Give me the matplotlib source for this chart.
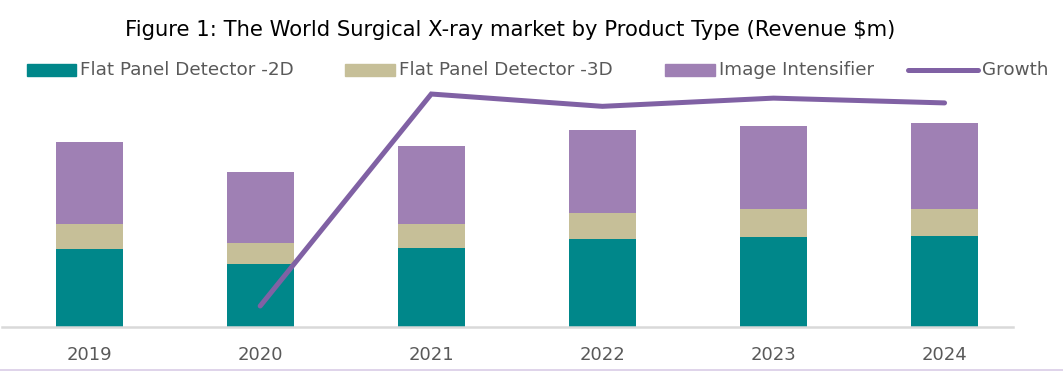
import matplotlib
matplotlib.use("Agg")
import matplotlib.pyplot as plt
from matplotlib.patches import Rectangle
from matplotlib.lines import Line2D

years = ["2019", "2020", "2021", "2022", "2023", "2024"]
fpd_2d = [78, 63, 79, 88, 90, 91]
fpd_3d = [25, 21, 24, 26, 28, 27]
image_intensifier = [82, 71, 78, 83, 83, 86]
growth_years = ["2020", "2021", "2022", "2023", "2024"]
growth = [-16.0, 15.0, 13.2, 14.4, 13.7]

series_names = ["Flat Panel Detector -2D", "Flat Panel Detector -3D", "Image Intensifier", "Growth"]
c_teal = "#00878A"
c_beige = "#C6BF98"
c_purple = "#9F80B4"
c_line = "#8061A4"
txt = "#595959"

W, H = 1063, 371
fig = plt.figure(figsize=(W / 100, H / 100), dpi=100)
plt.rcParams["font.family"] = ["DejaVu Sans"]

ax_l, ax_r, ax_t, ax_b = 2, 1013, 85, 327
ax = fig.add_axes([ax_l / W, 1 - ax_b / H, (ax_r - ax_l) / W, (ax_b - ax_t) / H])

x = list(range(len(years)))
bw = 67 / 171
ax.bar(x, fpd_2d, width=bw, color=c_teal, label=series_names[0])
bottom2 = fpd_2d
ax.bar(x, fpd_3d, width=bw, bottom=bottom2, color=c_beige, label=series_names[1])
bottom3 = [a + b for a, b in zip(fpd_2d, fpd_3d)]
ax.bar(x, image_intensifier, width=bw, bottom=bottom3, color=c_purple, label=series_names[2])

ax.set_xlim(-0.509, 5.40)
ax.set_ylim(0, 242)
ax.set_xticks(x)
ax.set_xticklabels(years, fontsize=13, color=txt)
ax.tick_params(axis="x", length=0, pad=14)
ax.set_yticks([])
for s in ["top", "right", "left"]:
    ax.spines[s].set_visible(False)
ax.spines["bottom"].set_color("#D9D9D9")
ax.spines["bottom"].set_linewidth(1.8)

ax2 = ax.twinx()
gx = [years.index(y) for y in growth_years]
ax2.plot(gx, growth, color=c_line, lw=3.6, solid_capstyle="round", solid_joinstyle="miter")
ax2.set_ylim(-19.07, 16.32)
ax2.set_yticks([])
for s in ax2.spines.values():
    s.set_visible(False)

fig.text(510 / W, 1 - 30 / H, "Figure 1: The World Surgical X-ray market by Product Type (Revenue $m)",
         ha="center", va="center", fontsize=15.2, color="#000000")

# legend
ly = 70
items = [(27, 76, c_teal, "patch"), (345, 395, c_beige, "patch"), (665, 715, c_purple, "patch"), (908, 978, c_line, "line")]
for (x0, x1, col, kind), name in zip(items, series_names):
    if kind == "patch":
        fig.patches.append(Rectangle((x0 / W, 1 - (ly + 6) / H), (x1 - x0) / W, 12 / H,
                                     transform=fig.transFigure, color=col))
    else:
        fig.lines.append(Line2D([x0 / W, x1 / W], [1 - ly / H, 1 - ly / H], transform=fig.transFigure,
                                color=col, lw=3.6, solid_capstyle="round"))
    fig.text((x1 + 4) / W, 1 - ly / H, name, ha="left", va="center", fontsize=13.2, color=txt)

# bottom border
fig.lines.append(Line2D([0, 1], [1 - 369.5 / H, 1 - 369.5 / H], transform=fig.transFigure,
                        color="#D9CCE6", lw=1.2))

fig.savefig("out.png", dpi=100)
